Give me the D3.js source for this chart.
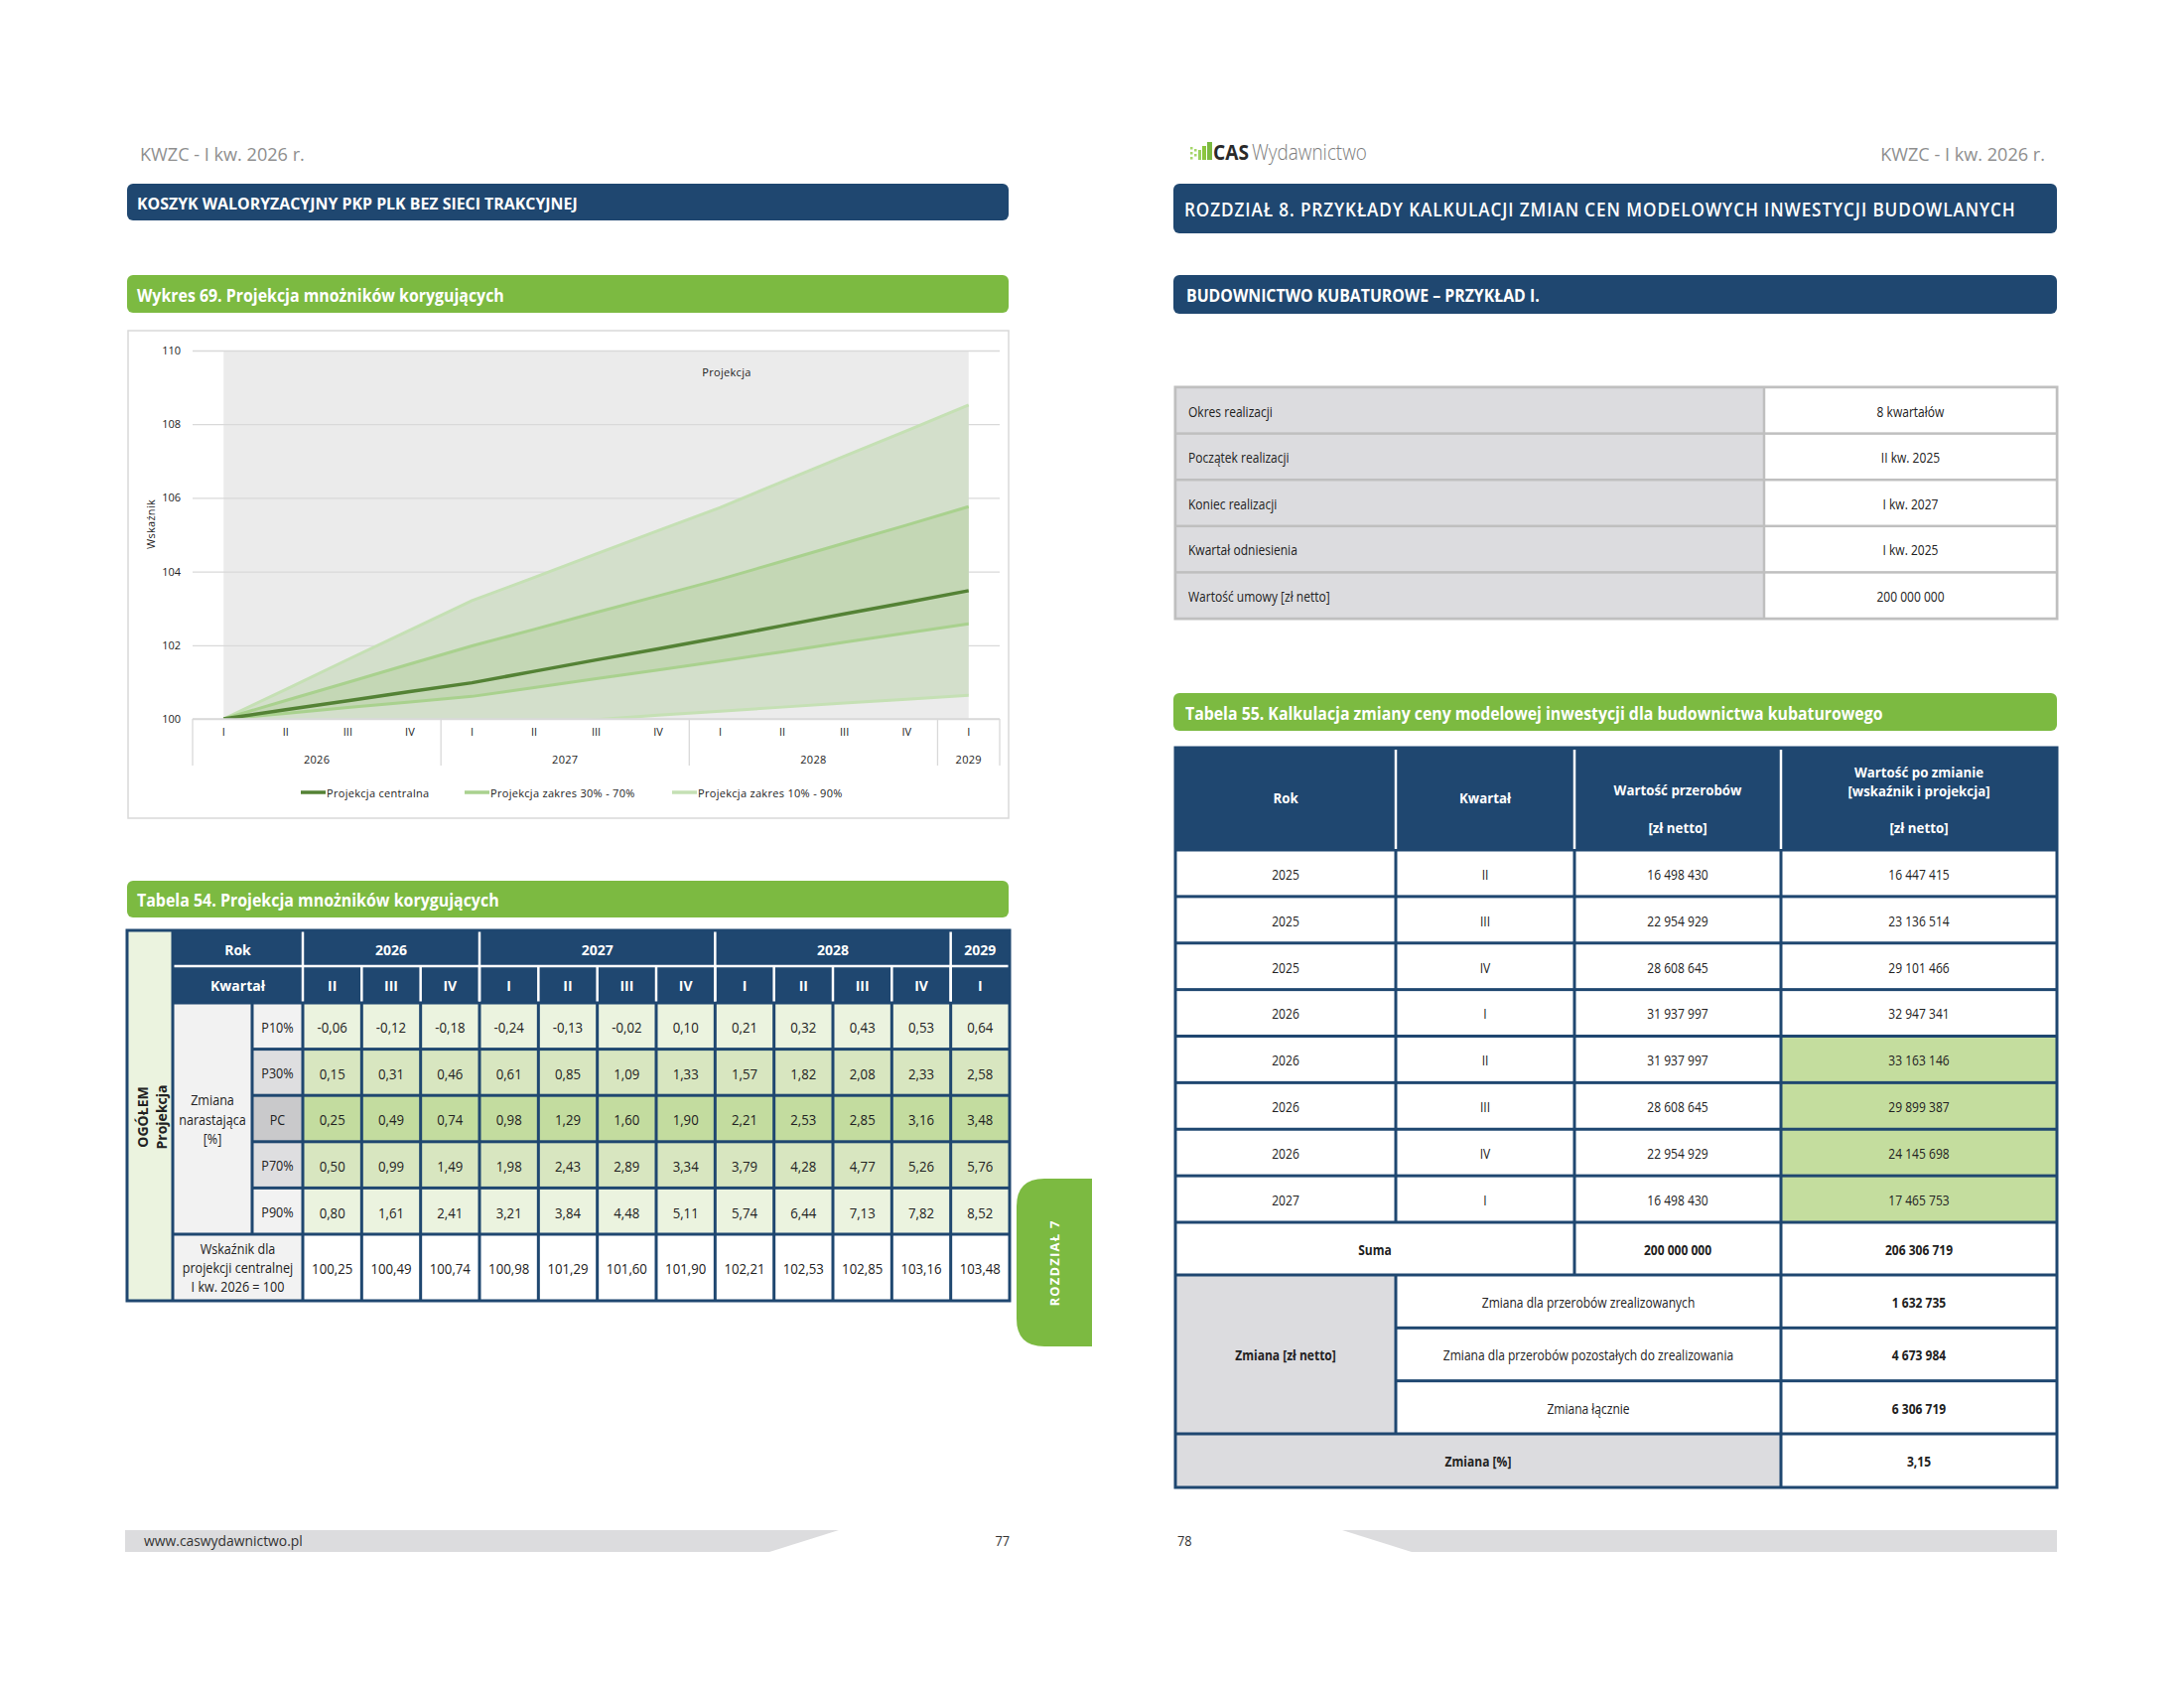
<!DOCTYPE html>
<html><head><meta charset="utf-8">
<script src="https://cdn.jsdelivr.net/npm/d3@7"></script>
<style>
html,body{margin:0;padding:0;background:#fff;}
svg{display:block;}
</style></head><body>
<svg id="c" width="2200" height="1700"></svg>
<script>
// ---------------- DATA ----------------
const quarterLabels = ["I","II","III","IV","I","II","III","IV","I","II","III","IV","I"];
const quarterYears  = [2026,2026,2026,2026,2027,2027,2027,2027,2028,2028,2028,2028,2029];
const yearGroups = ["2026","2027","2028","2029"];
const yTicks = [100,102,104,106,108,110];
const baseIndex = 100; // I kw. 2026 = 100
// cumulative change [%] for II 2026 ... I 2029
const p10 = [-0.06,-0.12,-0.18,-0.24,-0.13,-0.02,0.10,0.21,0.32,0.43,0.53,0.64];
const p30 = [0.15,0.31,0.46,0.61,0.85,1.09,1.33,1.57,1.82,2.08,2.33,2.58];
const pc  = [0.25,0.49,0.74,0.98,1.29,1.60,1.90,2.21,2.53,2.85,3.16,3.48];
const p70 = [0.50,0.99,1.49,1.98,2.43,2.89,3.34,3.79,4.28,4.77,5.26,5.76];
const p90 = [0.80,1.61,2.41,3.21,3.84,4.48,5.11,5.74,6.44,7.13,7.82,8.52];
const pcIndex = [100.25,100.49,100.74,100.98,101.29,101.60,101.90,102.21,102.53,102.85,103.16,103.48];
const legendLabels = ["Projekcja centralna","Projekcja zakres 30% - 70%","Projekcja zakres 10% - 90%"];
const t54RowLabels = ["P10%","P30%","PC","P70%","P90%"];

const infoLabels = ["Okres realizacji","Początek realizacji","Koniec realizacji","Kwartał odniesienia","Wartość umowy [zł netto]"];
const infoValues = ["8 kwartałów","II kw. 2025","I kw. 2027","I kw. 2025","200 000 000"];

const t55Years    = [2025,2025,2025,2026,2026,2026,2026,2027];
const t55Quarters = ["II","III","IV","I","II","III","IV","I"];
const t55Before   = [16498430,22954929,28608645,31937997,31937997,28608645,22954929,16498430];
const t55After    = [16447415,23136514,29101466,32947341,33163146,29899387,24145698,17465753];
const t55Projected= [false,false,false,false,true,true,true,true];
const t55SumBefore = 200000000, t55SumAfter = 206306719;
const changeLabels = ["Zmiana dla przerobów zrealizowanych","Zmiana dla przerobów pozostałych do zrealizowania","Zmiana łącznie"];
const changeValues = [1632735,4673984,6306719];
const changePct = 3.15;

// ---------------- HELPERS ----------------
const svg = d3.select("#c");
const NAVY = "#1f4770", GREEN = "#7cba41", FONT = "'Open Sans','Noto Sans',sans-serif";
const loc = d3.formatLocale({decimal:",", thousands:" ", grouping:[3], currency:["",""], minus:"-"});
const fInt = loc.format(",d"), f2 = loc.format(".2f");

function T(parent, x, y, s, o = {}) {
  const t = parent.append("text")
    .attr("font-family", o.family || FONT)
    .attr("font-size", o.size || 14)
    .attr("font-weight", o.weight || 400)
    .attr("fill", o.fill || "#222")
    .attr("text-anchor", o.anchor || "start")
    .attr("dominant-baseline", o.base || "auto")
    .text(s);
  if (o.ls) t.attr("letter-spacing", o.ls);
  let sx = o.sx || 1;
  if (o.fit) sx = o.fit / t.node().getComputedTextLength();
  let tr = `translate(${x},${y})`;
  if (o.rot) tr += ` rotate(${o.rot})`;
  tr += ` scale(${sx},1)`;
  t.attr("transform", tr);
  return t;
}
function R(parent, x0, y0, x1, y1, fill, o = {}) {
  const r = parent.append("rect").attr("x", x0).attr("y", y0)
    .attr("width", x1 - x0).attr("height", y1 - y0).attr("fill", fill);
  if (o.rx) r.attr("rx", o.rx);
  if (o.stroke) r.attr("stroke", o.stroke).attr("stroke-width", o.sw || 1);
  return r;
}
function bar(x0, y0, x1, y1, fill, text, o = {}) {
  R(svg, x0, y0, x1, y1, fill, {rx: 6});
  T(svg, o.tx || x0 + 10, (y0 + y1) / 2 + 1, text, {size: o.size || 16, weight: o.weight || 700, fill: "#fff", base: "central", fit: o.fit, ls: o.ls});
}

// ---------------- PAGE FURNITURE ----------------
T(svg, 141, 162, "KWZC - I kw. 2026 r.", {size: 19, fill: "#8f8f8f", fit: 166});
T(svg, 2060, 162, "KWZC - I kw. 2026 r.", {size: 19, fill: "#8f8f8f", fit: 166, anchor: "end"});
// logo
const logo = svg.append("g");
[[1199,150],[1199,155],[1199,160],[1203,152],[1203,157]].forEach(p => R(logo, p[0], p[1]-2, p[0]+2.5, p[1]+0.5, "#a6d66b"));
R(logo, 1207, 151, 1210, 161, "#9bd160");
R(logo, 1211, 147, 1215, 161, "#8cc63f");
R(logo, 1216, 143, 1221, 161, "#7cba41");
T(svg, 1222, 161, "CAS", {size: 22, weight: 700, fill: "#2a2a2a", fit: 36});
T(svg, 1261, 161, "Wydawnictwo", {size: 22, weight: 300, fill: "#7d7d7d", fit: 116});

bar(128, 185, 1016, 222, NAVY, "KOSZYK WALORYZACYJNY PKP PLK BEZ SIECI TRAKCYJNEJ", {fit: 444, size: 16});
bar(128, 277, 1016, 315, GREEN, "Wykres 69. Projekcja mnożników korygujących", {fit: 370, size: 17});
bar(128, 887, 1016, 924, GREEN, "Tabela 54. Projekcja mnożników korygujących", {fit: 365, size: 17});

bar(1182, 185, 2072, 235, NAVY, "ROZDZIAŁ 8. PRZYKŁADY KALKULACJI ZMIAN CEN MODELOWYCH INWESTYCJI BUDOWLANYCH", {fit: 838, size: 19, weight: 600, tx: 1193, ls: 1});
bar(1182, 277, 2072, 316, NAVY, "BUDOWNICTWO KUBATUROWE – PRZYKŁAD I.", {fit: 356, size: 17, tx: 1195});
bar(1182, 698, 2072, 736, GREEN, "Tabela 55. Kalkulacja zmiany ceny modelowej inwestycji dla budownictwa kubaturowego", {fit: 703, size: 17, tx: 1194});

// footers
svg.append("path").attr("d", "M126,1541 L845,1541 L775,1563 L126,1563 Z").attr("fill", "#dcdcde");
T(svg, 145, 1557, "www.caswydawnictwo.pl", {size: 15, fill: "#333", fit: 160});
T(svg, 1017, 1557, "77", {size: 15, fill: "#333", anchor: "end", sx: 0.85});
svg.append("path").attr("d", "M1352,1541 L2072,1541 L2072,1563 L1422,1563 Z").attr("fill", "#dcdcde");
T(svg, 1186, 1557, "78", {size: 15, fill: "#333", sx: 0.85});

// chapter tab
svg.append("path").attr("d", "M1100,1187 L1052,1187 Q1024,1187 1024,1215 L1024,1328 Q1024,1356 1052,1356 L1100,1356 Z").attr("fill", GREEN);
T(svg, 1062, 1272, "ROZDZIAŁ 7", {size: 13, weight: 700, fill: "#fff", anchor: "middle", base: "central", rot: -90, ls: 1.2});

// ---------------- CHART ----------------
R(svg, 129, 333, 1016, 824, "#fff", {stroke: "#d9d9d9", sw: 1.5});
const plotL = 194, plotR = 1007, plotT = 353, plotB = 724;
const qKeys = quarterLabels.map((q, i) => quarterYears[i] + "-" + q + "-" + i);
const x = d3.scaleBand().domain(qKeys).range([plotL, plotR]);
const xc = k => x(k) + x.bandwidth() / 2;
const y = d3.scaleLinear().domain([100, 110]).range([plotB, plotT]);
const CF = "'Open Sans','Noto Sans',sans-serif";

// projection shaded region
R(svg, xc(qKeys[0]), y(110), xc(qKeys[qKeys.length - 1]), y(100), "#ebebeb");

// gridlines + y labels
const yAxis = svg.append("g").attr("transform", `translate(${plotL},0)`)
  .call(d3.axisLeft(y).tickValues(yTicks).tickSize(-(plotR - plotL)).tickPadding(12).tickFormat(d3.format("d")));
yAxis.select(".domain").remove();
yAxis.selectAll(".tick line").attr("stroke", "#d9d9d9").attr("stroke-width", 1.3);
yAxis.selectAll(".tick text").attr("font-family", CF).attr("font-size", 11).attr("fill", "#222");

T(svg, 732, 374, "Projekcja", {size: 11, fill: "#222", anchor: "middle", base: "central", ls: 0.3});
T(svg, 151, 528, "Wskaźnik", {size: 11, fill: "#222", anchor: "middle", base: "central", rot: -90, ls: 0.3});

// series
const series = v => [baseIndex].concat(v.map(d => baseIndex + d));
const s10 = series(p10), s30 = series(p30), sPC = series(pc), s70 = series(p70), s90 = series(p90);
svg.append("clipPath").attr("id", "clip").append("rect")
  .attr("x", plotL).attr("y", plotT - 5).attr("width", plotR - plotL).attr("height", plotB - plotT + 5);
const plot = svg.append("g").attr("clip-path", "url(#clip)");
const area = (lo, hi) => d3.area().x((d, i) => xc(qKeys[i])).y0((d, i) => y(lo[i])).y1((d, i) => y(hi[i]))(qKeys);
const line = v => d3.line().x((d, i) => xc(qKeys[i])).y(d => y(d))(v);
plot.append("path").attr("d", area(s10, s90)).attr("fill", "#d3dfcb");
plot.append("path").attr("d", area(s30, s70)).attr("fill", "#c4d7b5");
[[s10, "#c5e0b4", 3], [s90, "#c5e0b4", 3], [s30, "#a9d18e", 3], [s70, "#a9d18e", 3], [sPC, "#548235", 3.5]]
  .forEach(([v, c, w]) => plot.append("path").attr("d", line(v)).attr("fill", "none").attr("stroke", c).attr("stroke-width", w));

// x axis
svg.append("line").attr("x1", plotL).attr("x2", plotR).attr("y1", plotB).attr("y2", plotB).attr("stroke", "#d9d9d9").attr("stroke-width", 1.3);
const xAxis = svg.append("g").attr("transform", `translate(0,${plotB})`)
  .call(d3.axisBottom(x).tickSize(0).tickPadding(9).tickFormat((d, i) => quarterLabels[i]));
xAxis.select(".domain").remove();
xAxis.selectAll(".tick text").attr("font-family", CF).attr("font-size", 11).attr("fill", "#222");
const groupBounds = [];
yearGroups.forEach(yr => {
  const keys = qKeys.filter((k, i) => String(quarterYears[i]) === yr);
  const a = x(keys[0]), b = x(keys[keys.length - 1]) + x.bandwidth();
  groupBounds.push(a);
  T(svg, (a + b) / 2, 764, yr, {size: 11, fill: "#222", anchor: "middle", base: "central", ls: 0.3});
});
groupBounds.push(plotR);
groupBounds.forEach(gx => svg.append("line").attr("x1", gx).attr("x2", gx).attr("y1", plotB).attr("y2", 771).attr("stroke", "#d9d9d9").attr("stroke-width", 1.3));

// legend
const legendCols = ["#548235", "#a9d18e", "#c5e0b4"];
const legendX = [303, 468, 677];
legendLabels.forEach((lb, i) => {
  svg.append("line").attr("x1", legendX[i]).attr("x2", legendX[i] + 25).attr("y1", 798).attr("y2", 798).attr("stroke", legendCols[i]).attr("stroke-width", 3.5);
  T(svg, legendX[i] + 26, 798, lb, {size: 11, fill: "#222", base: "central", ls: 0.3});
});

// ---------------- TABLE 54 ----------------
const t54 = svg.append("g");
const c0 = 128, c1 = 174, c2 = 254, c3 = 305, cR = 1017;
const colW = (cR - c3) / pc.length;
const colX = i => c3 + i * colW;
const rY = [937, 973, 1010, 1056.6, 1103.2, 1149.8, 1196.4, 1243, 1310];
const LW = 3, h = LW / 2;
R(t54, c0 - h, rY[0] - h, cR + h, rY[8] + h, NAVY);
const cell = (x0, y0, x1, y1, f) => R(t54, x0 + h, y0 + h, x1 - h, y1 - h, f);
// header
R(t54, c1 + h, rY[0] + h, cR - h, rY[2] - h, NAVY);
t54.append("line").attr("x1", c1 + h).attr("x2", cR - h).attr("y1", rY[1]).attr("y2", rY[1]).attr("stroke", "#fff").attr("stroke-width", 2.5);
T(t54, (c1 + c3) / 2, (rY[0] + rY[1]) / 2 + 1, "Rok", {size: 14, weight: 700, fill: "#fff", anchor: "middle", base: "central"});
T(t54, (c1 + c3) / 2, (rY[1] + rY[2]) / 2 + 1, "Kwartał", {size: 14, weight: 700, fill: "#fff", anchor: "middle", base: "central"});
const tYears = quarterYears.slice(1), tQ = quarterLabels.slice(1);
yearGroups.forEach(yr => {
  const idx = tYears.map((v, i) => String(v) === yr ? i : -1).filter(i => i >= 0);
  const a = colX(idx[0]), b = colX(idx[idx.length - 1] + 1);
  T(t54, (a + b) / 2, (rY[0] + rY[1]) / 2 + 1, yr, {size: 14, weight: 700, fill: "#fff", anchor: "middle", base: "central"});
  t54.append("line").attr("x1", a).attr("x2", a).attr("y1", rY[0] + h).attr("y2", rY[2] - h).attr("stroke", "#fff").attr("stroke-width", 2.5);
});
tQ.forEach((q, i) => {
  if (i > 0) t54.append("line").attr("x1", colX(i)).attr("x2", colX(i)).attr("y1", rY[1]).attr("y2", rY[2] - h).attr("stroke", "#fff").attr("stroke-width", 2.5);
  T(t54, colX(i) + colW / 2, (rY[1] + rY[2]) / 2 + 1, q, {size: 14, weight: 700, fill: "#fff", anchor: "middle", base: "central"});
});
// left labels
cell(c0, rY[0], c1, rY[8], "#ebf3df");
T(t54, 143, 1125, "OGÓŁEM", {size: 14, weight: 700, fill: "#222", anchor: "middle", base: "central", rot: -90});
T(t54, 162, 1125, "Projekcja", {size: 14, weight: 700, fill: "#222", anchor: "middle", base: "central", rot: -90});
cell(c1, rY[2], c2, rY[7], "#f2f2f2");
["Zmiana", "narastająca", "[%]"].forEach((s, i) => T(t54, (c1 + c2) / 2, 1108 + i * 19.5, s, {size: 14, fill: "#222", anchor: "middle", base: "central", sx: 0.9}));
const rowData = [p10, p30, pc, p70, p90];
const labFill = ["#f2f2f2", "#dedee0", "#c9c9cb", "#dedee0", "#f2f2f2"];
const datFill = ["#ebf3df", "#d8e6c0", "#c3dc9f", "#d8e6c0", "#ebf3df"];
rowData.forEach((arr, r) => {
  cell(c2, rY[r + 2], c3, rY[r + 3], labFill[r]);
  T(t54, (c2 + c3) / 2, (rY[r + 2] + rY[r + 3]) / 2 + 1, t54RowLabels[r], {size: 14, fill: "#222", anchor: "middle", base: "central", sx: 0.9});
  arr.forEach((v, i) => {
    cell(colX(i), rY[r + 2], colX(i + 1), rY[r + 3], datFill[r]);
    T(t54, colX(i) + colW / 2, (rY[r + 2] + rY[r + 3]) / 2 + 1, f2(v), {size: 15, fill: "#222", anchor: "middle", base: "central", sx: 0.88});
  });
});
cell(c1, rY[7], c3, rY[8], "#f2f2f2");
["Wskaźnik dla", "projekcji centralnej", "I kw. 2026 = 100"].forEach((s, i) => T(t54, (c1 + c3) / 2, 1258 + i * 19, s, {size: 14, fill: "#222", anchor: "middle", base: "central", sx: 0.9}));
pcIndex.forEach((v, i) => {
  cell(colX(i), rY[7], colX(i + 1), rY[8], "#fff");
  T(t54, colX(i) + colW / 2, (rY[7] + rY[8]) / 2 + 1, f2(v), {size: 15, fill: "#222", anchor: "middle", base: "central", sx: 0.88});
});

// ---------------- INFO TABLE ----------------
const info = svg.append("g");
const iL = 1184, iS = 1777, iR = 2072, iT = 390, iH = 46.6;
R(info, iL - 1.5, iT - 1.5, iR + 1.5, iT + iH * infoLabels.length + 1.5, "#bfbfbf");
infoLabels.forEach((lb, i) => {
  const y0 = iT + i * iH;
  R(info, iL + 1.25, y0 + 1.25, iS - 1.25, y0 + iH - 1.25, "#dcdcdf");
  R(info, iS + 1.25, y0 + 1.25, iR - 1.25, y0 + iH - 1.25, "#fff");
  T(info, 1197, y0 + iH / 2 + 1, lb, {size: 14, fill: "#222", base: "central", sx: 0.86});
  T(info, (iS + iR) / 2, y0 + iH / 2 + 1, infoValues[i], {size: 14, fill: "#222", anchor: "middle", base: "central", sx: 0.86});
});

// ---------------- TABLE 55 ----------------
const t55 = svg.append("g");
const k = [1184, 1406, 1586, 1794, 2072];
const hT = 753, hB = 856, rowH = (1231 - 856) / t55Years.length;
const sumB = 1284, zH = (1444 - 1284) / 3, pctB = 1498;
R(t55, k[0] - h, hT - h, k[4] + h, pctB + h, NAVY);
const c55 = (x0, y0, x1, y1, f) => R(t55, x0 + h, y0 + h, x1 - h, y1 - h, f);
// header
[1, 2, 3].forEach(i => t55.append("line").attr("x1", k[i]).attr("x2", k[i]).attr("y1", hT + 2).attr("y2", hB - 1).attr("stroke", "#fff").attr("stroke-width", 2.5));
const hOpt = {size: 14, weight: 700, fill: "#fff", anchor: "middle", base: "central", sx: 0.95};
T(t55, (k[0] + k[1]) / 2, 803, "Rok", hOpt);
T(t55, (k[1] + k[2]) / 2, 803, "Kwartał", hOpt);
T(t55, (k[2] + k[3]) / 2, 795, "Wartość przerobów", hOpt);
T(t55, (k[2] + k[3]) / 2, 833, "[zł netto]", hOpt);
T(t55, (k[3] + k[4]) / 2, 777, "Wartość po zmianie", hOpt);
T(t55, (k[3] + k[4]) / 2, 796, "[wskaźnik i projekcja]", hOpt);
T(t55, (k[3] + k[4]) / 2, 833, "[zł netto]", hOpt);
const bOpt = {size: 14, fill: "#222", anchor: "middle", base: "central", sx: 0.86};
t55Years.forEach((yr, i) => {
  const y0 = hB + i * rowH, y1 = y0 + rowH, ym = (y0 + y1) / 2 + 1;
  c55(k[0], y0, k[1], y1, "#fff"); c55(k[1], y0, k[2], y1, "#fff"); c55(k[2], y0, k[3], y1, "#fff");
  c55(k[3], y0, k[4], y1, t55Projected[i] ? "#c4dd9e" : "#fff");
  T(t55, (k[0] + k[1]) / 2, ym, String(yr), bOpt);
  T(t55, (k[1] + k[2]) / 2, ym, t55Quarters[i], bOpt);
  T(t55, (k[2] + k[3]) / 2, ym, fInt(t55Before[i]), bOpt);
  T(t55, (k[3] + k[4]) / 2, ym, fInt(t55After[i]), bOpt);
});
const sT = hB + rowH * t55Years.length;
const bbOpt = Object.assign({}, bOpt, {weight: 700});
c55(k[0], sT, k[2], sumB, "#fff"); c55(k[2], sT, k[3], sumB, "#fff"); c55(k[3], sT, k[4], sumB, "#fff");
T(t55, (k[0] + k[2]) / 2, (sT + sumB) / 2 + 1, "Suma", bbOpt);
T(t55, (k[2] + k[3]) / 2, (sT + sumB) / 2 + 1, fInt(t55SumBefore), bbOpt);
T(t55, (k[3] + k[4]) / 2, (sT + sumB) / 2 + 1, fInt(t55SumAfter), bbOpt);
c55(k[0], sumB, k[1], sumB + 3 * zH, "#dcdcdf");
T(t55, (k[0] + k[1]) / 2, sumB + 1.5 * zH + 1, "Zmiana [zł netto]", bbOpt);
changeLabels.forEach((lb, i) => {
  const y0 = sumB + i * zH, y1 = y0 + zH, ym = (y0 + y1) / 2 + 1;
  c55(k[1], y0, k[3], y1, "#fff"); c55(k[3], y0, k[4], y1, "#fff");
  T(t55, (k[1] + k[3]) / 2, ym, lb, bOpt);
  T(t55, (k[3] + k[4]) / 2, ym, fInt(changeValues[i]), bbOpt);
});
const zB = sumB + 3 * zH;
c55(k[0], zB, k[3], pctB, "#dcdcdf"); c55(k[3], zB, k[4], pctB, "#fff");
T(t55, (k[0] + k[3]) / 2, (zB + pctB) / 2 + 1, "Zmiana [%]", bbOpt);
T(t55, (k[3] + k[4]) / 2, (zB + pctB) / 2 + 1, f2(changePct), bbOpt);
</script>
</body></html>
